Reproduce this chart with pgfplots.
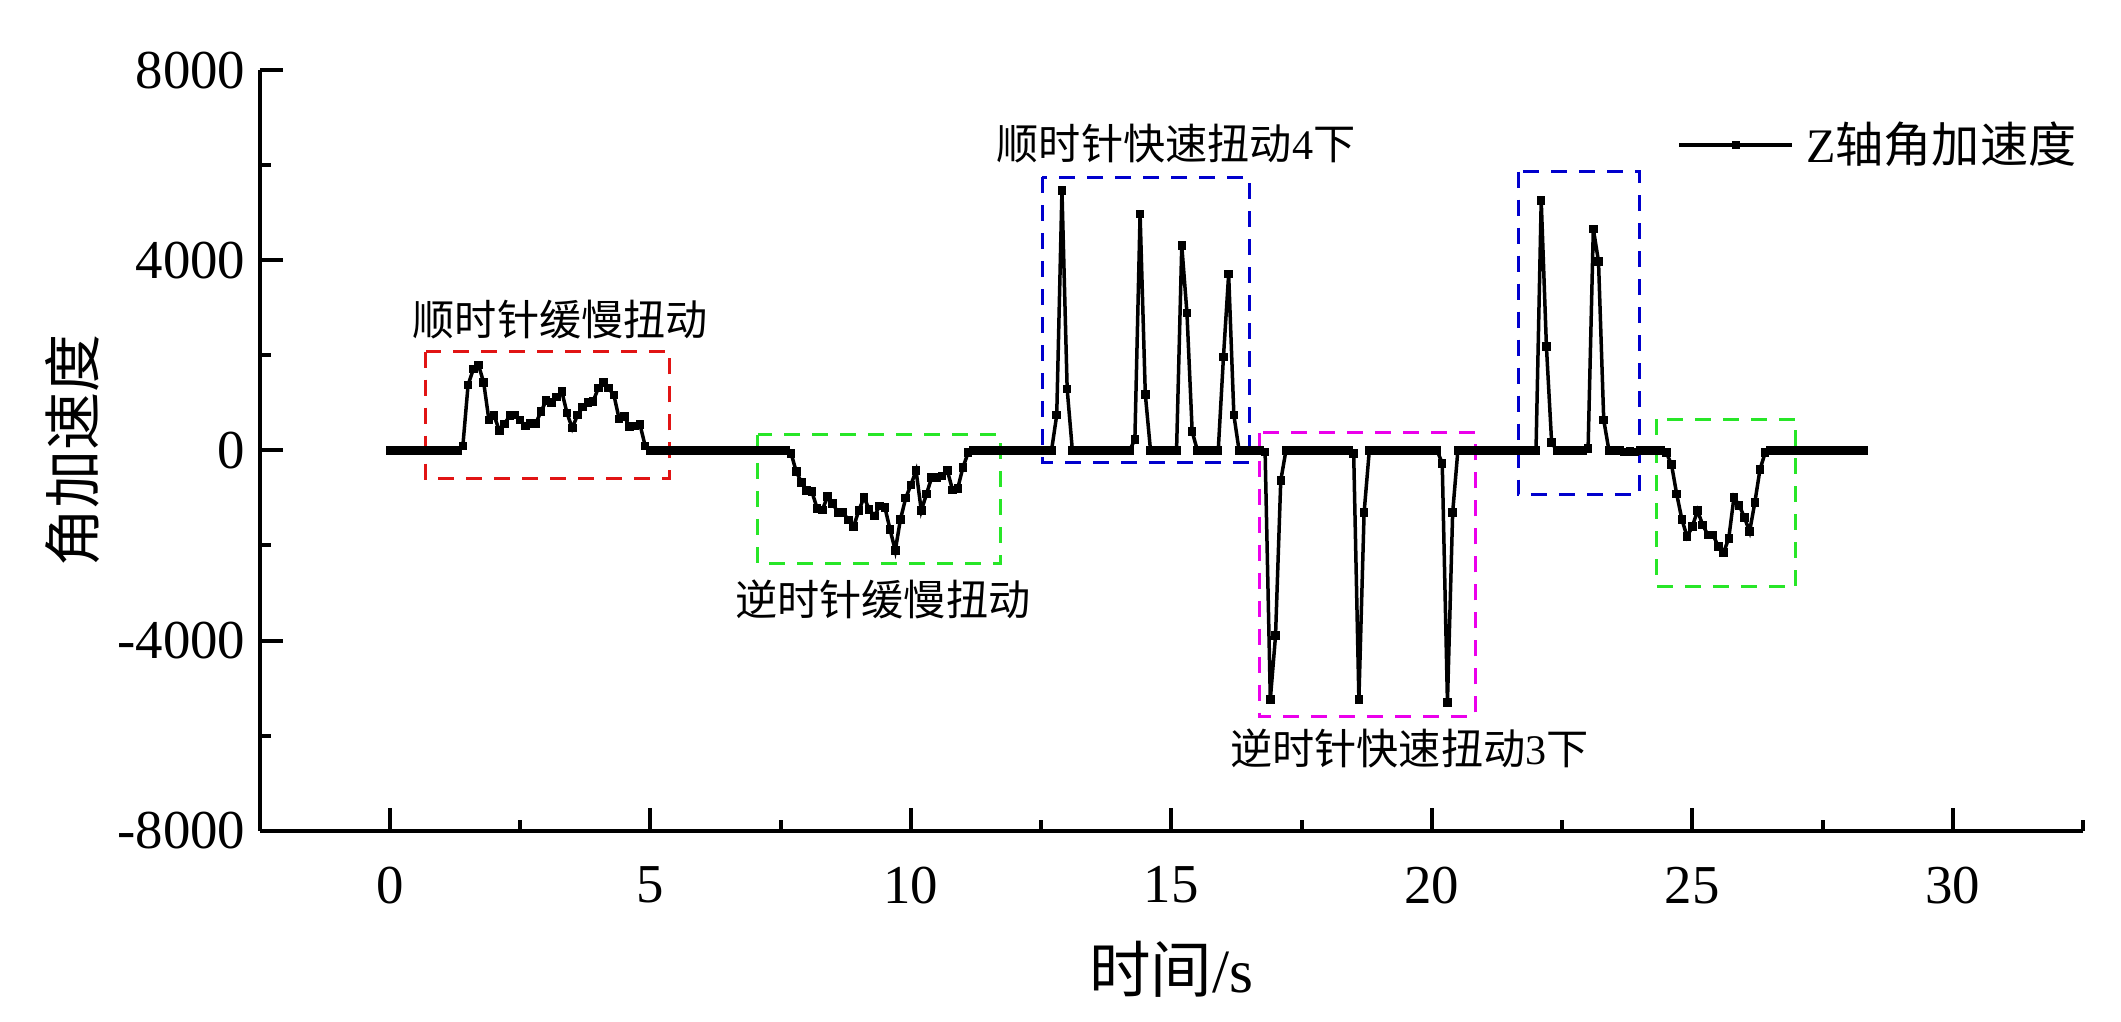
\documentclass[border=0pt]{standalone}
\usepackage{fontspec}
\usepackage{pgfplots}
\pgfplotsset{compat=1.18}
\setmainfont{Liberation Serif}
\newfontfamily\cjk{Noto Sans CJK SC}
\definecolor{bxred}{RGB}{225,20,20}
\definecolor{bxgreen}{RGB}{40,230,40}
\definecolor{bxblue}{RGB}{0,0,205}
\definecolor{bxmag}{RGB}{235,0,235}
\begin{document}
\begin{tikzpicture}
\begin{axis}[
  scale only axis, width=182.33mm, height=76.03mm,
  xmin=-2.5, xmax=32.5, ymin=-8000, ymax=8000,
  axis x line*=bottom, axis y line*=left,
  axis line style={line width=0.4mm, -},
  tick align=inside,
  major tick length=2.3mm, minor tick length=1.1mm,
  every tick/.style={line width=0.4mm, black},
  xtick={0,5,...,30}, minor xtick={-2.5,2.5,7.5,12.5,17.5,22.5,27.5,32.5},
  ytick={-8000,-4000,0,4000,8000}, minor ytick={-6000,-2000,2000,6000},
  scaled y ticks=false,
  /pgf/number format/assume math mode=true,
  /pgf/number format/1000 sep={},
  ticklabel style={font=\fontsize{15.6}{18}\selectfont},
  xticklabel style={anchor=north, inner sep=0pt, yshift=-3.54mm},
  yticklabel style={anchor=east, inner sep=0pt, xshift=-1.37mm},
  xlabel={{\cjk 时间}/s},
  ylabel={\cjk 角加速度},
  xlabel style={at={(axis description cs:0.5,-0.182)}, anchor=center, font=\fontsize{17.5}{20}\selectfont},
  ylabel style={at={(axis description cs:-0.1024,0.5)}, anchor=center, font=\fontsize{16.5}{20}\selectfont},
  clip=false,
  legend style={draw=none, fill=none, at={(axis cs:24.72,6431)}, anchor=west,
    inner sep=0pt, outer sep=0pt, font=\fontsize{13.7}{16}\selectfont,
    nodes={inner sep=0pt},
    /tikz/every odd column/.append style={column sep=1.2mm}},
  legend image code/.code={\draw[mark repeat=2,mark phase=2,#1] plot coordinates {(0mm,0mm) (5.65mm,0mm) (11.3mm,0mm)};},
]
\addplot[black, line width=0.35mm, mark=square*, mark size=0.25mm, mark options={solid}] coordinates {
(0,0)(0.1,0)(0.2,0)(0.3,0)(0.4,0)(0.5,0)(0.6,0)(0.7,0)(0.8,0)(0.9,0)(1.0,0)(1.1,0)(1.2,0)(1.3,0)
(1.4,95)(1.5,1379)(1.6,1709)(1.7,1800)(1.8,1428)(1.9,642)(2.0,733)(2.1,417)(2.2,558)(2.3,733)
(2.4,747)(2.5,642)(2.6,516)(2.7,572)(2.8,572)(2.9,817)(3.0,1048)(3.1,1006)(3.2,1120)(3.3,1238)
(3.4,783)(3.5,467)(3.6,747)(3.7,909)(3.8,1006)(3.9,1035)(4.0,1309)(4.1,1428)(4.2,1309)(4.3,1162)
(4.4,663)(4.5,712)(4.6,501)(4.7,516)(4.8,544)(4.9,95)
(5.0,0)(5.1,0)(5.2,0)(5.3,0)(5.4,0)(5.5,0)(5.6,0)(5.7,0)(5.8,0)(5.9,0)(6.0,0)(6.1,0)(6.2,0)(6.3,0)
(6.4,0)(6.5,0)(6.6,0)(6.7,0)(6.8,0)(6.9,0)(7.0,0)(7.1,0)(7.2,0)(7.3,0)(7.4,0)(7.5,0)(7.6,0)
(7.7,-60)(7.8,-446)(7.9,-670)(8.0,-846)(8.1,-867)(8.2,-1217)(8.3,-1252)(8.4,-972)(8.5,-1112)
(8.6,-1309)(8.7,-1309)(8.8,-1463)(8.9,-1604)(9.0,-1267)(9.1,-986)(9.2,-1238)(9.3,-1379)(9.4,-1168)
(9.5,-1196)(9.6,-1660)(9.7,-2109)(9.8,-1449)(9.9,-1006)(10.0,-726)(10.1,-425)(10.2,-1267)(10.3,-916)
(10.4,-565)(10.5,-565)(10.6,-537)(10.7,-425)(10.8,-831)(10.9,-796)(11.0,-354)(11.1,-46)
(11.2,0)(11.3,0)(11.4,0)(11.5,0)(11.6,0)(11.7,0)(11.8,0)(11.9,0)(12.0,0)(12.1,0)(12.2,0)(12.3,0)
(12.4,0)(12.5,0)(12.6,0)(12.7,0)
(12.8,747)(12.9,5469)(13.0,1295)
(13.1,0)(13.2,0)(13.3,0)(13.4,0)(13.5,0)(13.6,0)(13.7,0)(13.8,0)(13.9,0)(14.0,0)(14.1,0)(14.2,0)
(14.3,235)(14.4,4972)(14.5,1182)
(14.6,0)(14.7,0)(14.8,0)(14.9,0)(15.0,0)(15.1,0)
(15.2,4312)(15.3,2887)(15.4,396)
(15.5,0)(15.6,0)(15.7,0)(15.8,0)(15.9,0)
(16.0,1962)(16.1,3709)(16.2,747)
(16.3,0)(16.4,0)(16.5,0)(16.6,0)(16.7,0)
(16.8,-38)(16.9,-5238)(17.0,-3898)(17.1,-635)
(17.2,0)(17.3,0)(17.4,0)(17.5,0)(17.6,0)(17.7,0)(17.8,0)(17.9,0)(18.0,0)(18.1,0)(18.2,0)(18.3,0)(18.4,0)
(18.5,-60)(18.6,-5238)(18.7,-1309)
(18.8,0)(18.9,0)(19.0,0)(19.1,0)(19.2,0)(19.3,0)(19.4,0)(19.5,0)(19.6,0)(19.7,0)(19.8,0)(19.9,0)(20.0,0)(20.1,0)
(20.2,-270)(20.3,-5308)(20.4,-1309)
(20.5,0)(20.6,0)(20.7,0)(20.8,0)(20.9,0)(21.0,0)(21.1,0)(21.2,0)(21.3,0)(21.4,0)(21.5,0)(21.6,0)
(21.7,0)(21.8,0)(21.9,0)(22.0,0)
(22.1,5259)(22.2,2185)(22.3,165)
(22.4,0)(22.5,0)(22.6,0)(22.7,0)(22.8,0)(22.9,0)(23.0,46)
(23.1,4663)(23.2,3975)(23.3,642)
(23.4,0)(23.5,0)(23.6,0)(23.7,-38)(23.8,-20)(23.9,-38)(24.0,0)(24.1,0)(24.2,0)(24.3,0)(24.4,0)
(24.5,-46)(24.6,-291)(24.7,-916)(24.8,-1449)(24.9,-1814)(25.0,-1604)(25.1,-1267)(25.2,-1568)
(25.3,-1779)(25.4,-1779)(25.5,-2025)(25.6,-2151)(25.7,-1849)(25.8,-986)(25.9,-1154)(26.0,-1407)
(26.1,-1709)(26.2,-1098)(26.3,-396)(26.4,-46)
(26.5,0)(26.6,0)(26.7,0)(26.8,0)(26.9,0)(27.0,0)(27.1,0)(27.2,0)(27.3,0)(27.4,0)(27.5,0)(27.6,0)
(27.7,0)(27.8,0)(27.9,0)(28.0,0)(28.1,0)(28.2,0)(28.3,0)
};
\addlegendentry{Z{\cjk 轴角加速度}}
% annotation boxes
\draw[bxred, line width=0.3mm, dash pattern=on 1.6mm off 1.2mm] (axis cs:0.687,2080) rectangle (axis cs:5.373,-600);
\draw[bxgreen, line width=0.3mm, dash pattern=on 1.6mm off 1.2mm] (axis cs:7.056,326) rectangle (axis cs:11.72,-2375);
\draw[bxblue, line width=0.3mm, dash pattern=on 1.6mm off 1.2mm] (axis cs:12.52,5751) rectangle (axis cs:16.50,-249);
\draw[bxmag, line width=0.3mm, dash pattern=on 1.6mm off 1.2mm] (axis cs:16.69,375) rectangle (axis cs:20.83,-5603);
\draw[bxblue, line width=0.3mm, dash pattern=on 1.6mm off 1.2mm] (axis cs:21.66,5869) rectangle (axis cs:23.98,-937);
\draw[bxgreen, line width=0.3mm, dash pattern=on 1.6mm off 1.2mm] (axis cs:24.31,657) rectangle (axis cs:26.99,-2867);
% annotations
\node[font=\fontsize{12}{14}\selectfont] at (axis cs:3.27,2749) {\cjk 顺时针缓慢扭动};
\node[font=\fontsize{12}{14}\selectfont] at (axis cs:9.46,-3132) {\cjk 逆时针缓慢扭动};
\node[font=\fontsize{12}{14}\selectfont] at (axis cs:15.09,6465) {{\cjk 顺时针快速扭动}4{\cjk 下}};
\node[font=\fontsize{12}{14}\selectfont] at (axis cs:19.57,-6277) {{\cjk 逆时针快速扭动}3{\cjk 下}};
\coordinate (sw) at (rel axis cs:0,0);
\coordinate (ne) at (rel axis cs:1,1);
\end{axis}
\pgfresetboundingbox
\path[use as bounding box] ([xshift=-25.97mm, yshift=-19.04mm]sw) rectangle ([xshift=3.80mm, yshift=7.03mm]ne);
\end{tikzpicture}
\end{document}
